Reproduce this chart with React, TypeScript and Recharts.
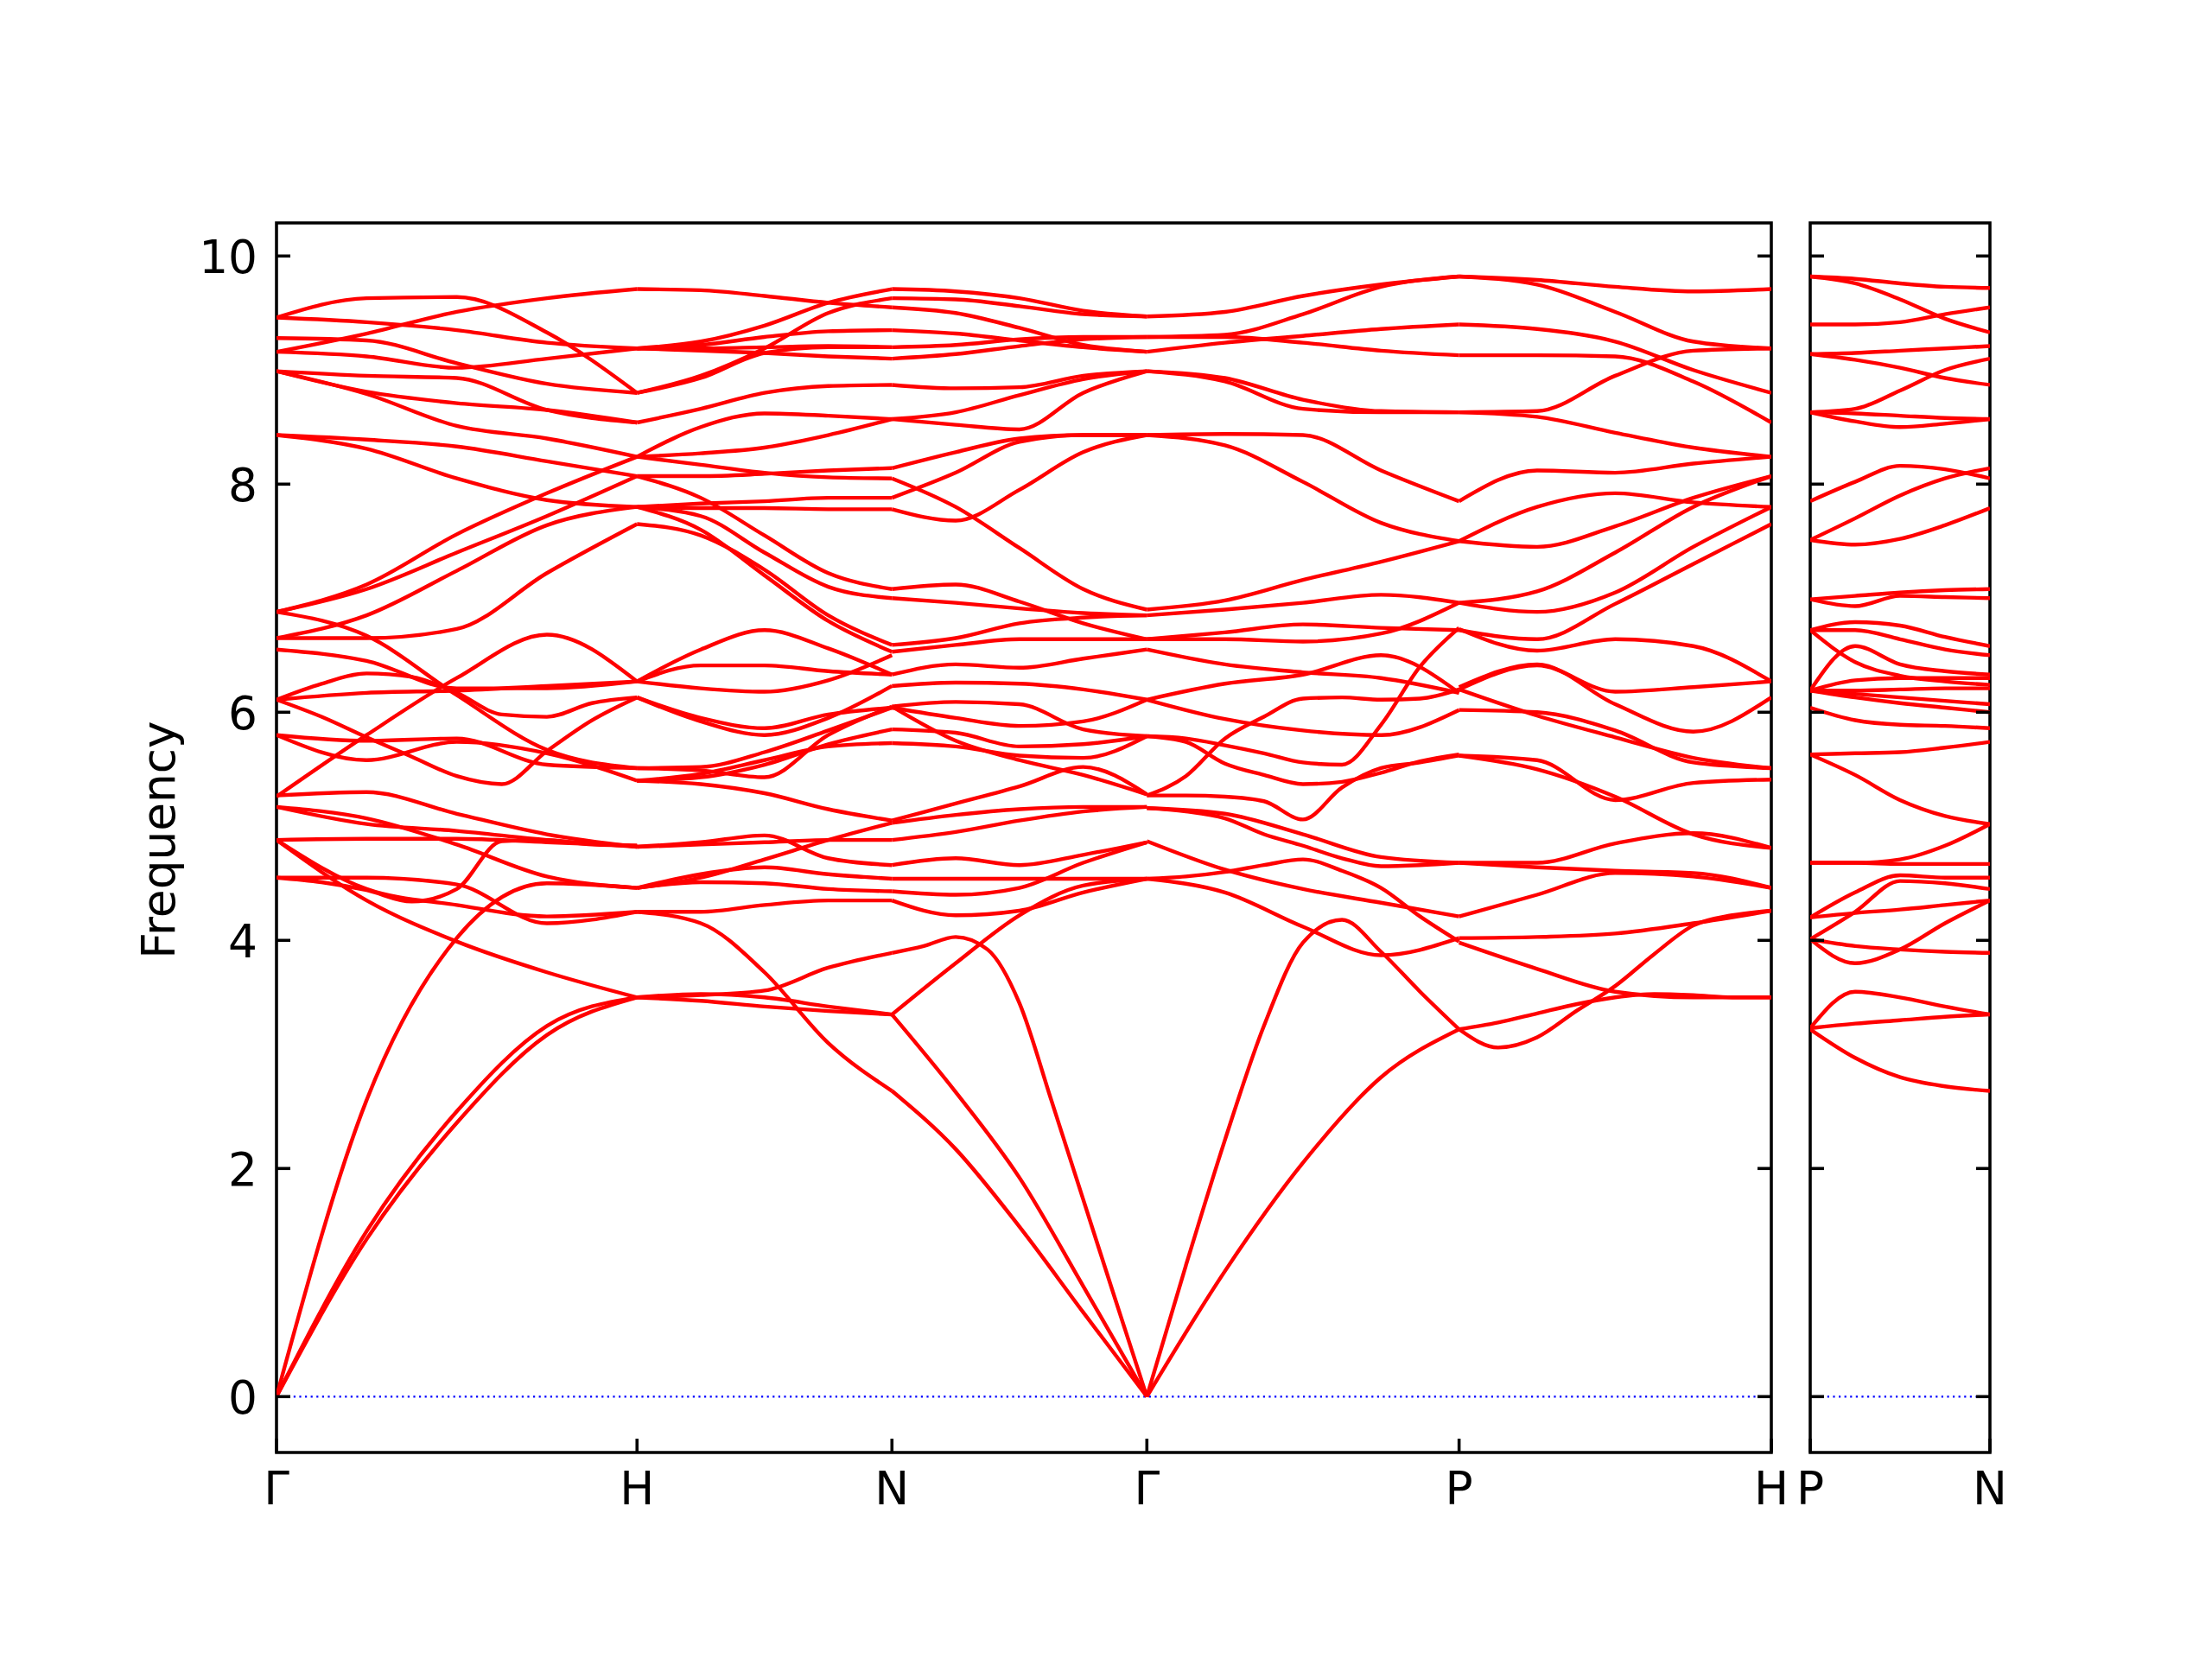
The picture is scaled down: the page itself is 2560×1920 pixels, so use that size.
import React from 'react';
import { LineChart, Line, XAxis, YAxis, ReferenceLine, ReferenceArea } from 'recharts';

// high-symmetry path (distances in 2pi/a)
const mainTicks = [0, 1, 1.7071, 2.4142, 3.2802, 4.1463];
const mainLabels = ['Γ', 'H', 'N', 'Γ', 'P', 'H'];
const sideTicks = [0, 0.5];
const sideLabels = ['P', 'N'];
const freqTicks = [0, 2, 4, 6, 8, 10];
const freqDomain: [number, number] = [-0.49, 10.29];

// each row is one branch, values evenly spaced along the segment
const gammaH = [
  [9.46, 9.63, 9.64, 9.33, 8.80],
  [9.16, 9.32, 9.51, 9.63, 9.71],
  [9.46, 9.42, 9.35, 9.24, 9.19],
  [9.28, 9.26, 9.06, 8.88, 8.80],
  [9.16, 9.12, 9.02, 9.10, 9.19],
  [8.99, 8.95, 8.93, 8.65, 8.54],
  [8.99, 8.81, 8.71, 8.65, 8.54],
  [8.99, 8.79, 8.51, 8.40, 8.24],
  [8.43, 8.39, 8.33, 8.20, 8.07],
  [8.43, 8.31, 8.05, 7.86, 7.80],
  [6.88, 7.12, 7.56, 7.92, 8.24],
  [6.88, 7.08, 7.40, 7.72, 8.07],
  [6.65, 6.85, 7.24, 7.64, 7.80],
  [6.65, 6.65, 6.73, 7.22, 7.65],
  [6.88, 6.67, 6.15, 5.67, 5.51],
  [6.55, 6.45, 6.21, 6.21, 6.27],
  [6.11, 6.17, 6.19, 6.23, 6.27],
  [6.11, 6.25, 6.34, 6.31, 6.17, 5.98, 5.96, 6.08, 6.13],
  [5.26, 5.80, 6.30, 6.68, 6.27],
  [6.11, 5.96, 5.78, 5.61, 5.44, 5.37, 5.66, 5.93, 6.13],
  [5.80, 5.75, 5.77, 5.54, 5.51],
  [5.80, 5.58, 5.74, 5.64, 5.40],
  [5.27, 5.30, 5.11, 4.93, 4.82],
  [5.17, 5.02, 4.96, 4.88, 4.82],
  [5.17, 5.07, 4.84, 4.56, 4.46],
  [4.88, 4.89, 4.89, 4.86, 4.83],
  [4.88, 4.35, 3.99, 3.72, 3.50],
  [4.88, 4.45, 4.31, 4.21, 4.25],
  [4.55, 4.51, 4.44, 4.34, 4.45, 4.87, 4.88, 4.84, 4.83],
  [4.55, 4.55, 4.49, 4.15, 4.25],
  [0, 2.6, 4.02, 4.50, 4.46],
  [0, 1.45, 2.5, 3.25, 3.5],
  [0, 1.38, 2.40, 3.17, 3.5],
];

const hN = [
  [9.71, 9.70, 9.65, 9.59, 9.55],
  [9.19, 9.25, 9.39, 9.59, 9.71],
  [8.80, 8.95, 9.19, 9.50, 9.63],
  [8.80, 8.93, 9.15, 9.20, 9.20],
  [9.19, 9.19, 9.20, 9.21, 9.20],
  [9.19, 9.17, 9.15, 9.12, 9.10],
  [9.19, 9.22, 9.29, 9.34, 9.35],
  [8.54, 8.66, 8.80, 8.86, 8.87],
  [8.24, 8.50, 8.62, 8.60, 8.57],
  [8.24, 8.27, 8.32, 8.43, 8.57],
  [8.07, 8.07, 8.09, 8.12, 8.14],
  [8.24, 8.17, 8.10, 8.06, 8.05],
  [7.80, 7.83, 7.85, 7.88, 7.88],
  [7.80, 7.79, 7.79, 7.78, 7.78],
  [8.07, 7.88, 7.55, 7.22, 7.08],
  [7.80, 7.72, 7.40, 7.10, 7.00],
  [7.65, 7.55, 7.25, 6.85, 6.59],
  [7.80, 7.60, 7.20, 6.80, 6.53],
  [6.27, 6.55, 6.72, 6.56, 6.33],
  [6.27, 6.41, 6.41, 6.36, 6.33],
  [6.27, 6.21, 6.18, 6.28, 6.50],
  [6.13, 5.95, 5.86, 5.98, 6.04],
  [6.13, 5.92, 5.80, 5.95, 6.23],
  [5.51, 5.52, 5.65, 5.84, 6.04],
  [5.51, 5.49, 5.43, 5.80, 6.05],
  [5.40, 5.43, 5.54, 5.72, 5.85],
  [5.40, 5.46, 5.58, 5.70, 5.73],
  [5.40, 5.37, 5.29, 5.15, 5.05],
  [4.82, 4.86, 4.92, 4.72, 4.66],
  [4.82, 4.84, 4.86, 4.88, 4.88],
  [4.46, 4.55, 4.71, 4.88, 5.03],
  [4.46, 4.51, 4.50, 4.45, 4.43],
  [4.46, 4.58, 4.64, 4.58, 4.54],
  [4.25, 4.25, 4.31, 4.35, 4.35],
  [4.25, 4.15, 3.72, 3.10, 2.68],
  [3.50, 3.53, 3.50, 3.42, 3.35],
  [3.50, 3.47, 3.42, 3.38, 3.35],
  [3.50, 3.52, 3.56, 3.76, 3.89],
];

const nGamma = [
  [9.71, 9.69, 9.63, 9.52, 9.47],
  [9.63, 9.62, 9.56, 9.49, 9.47],
  [9.55, 9.50, 9.37, 9.22, 9.16],
  [9.35, 9.32, 9.26, 9.20, 9.16],
  [9.20, 9.22, 9.27, 9.29, 9.29],
  [9.10, 9.14, 9.21, 9.27, 9.29],
  [8.87, 8.84, 8.85, 8.95, 8.99],
  [8.57, 8.52, 8.48, 8.80, 8.99],
  [8.57, 8.63, 8.78, 8.92, 8.99],
  [8.14, 8.28, 8.40, 8.43, 8.43],
  [7.88, 8.10, 8.37, 8.43, 8.43],
  [7.78, 7.68, 7.95, 8.28, 8.43],
  [8.05, 7.80, 7.44, 7.08, 6.90],
  [7.08, 7.12, 6.97, 6.78, 6.64],
  [7.00, 6.96, 6.91, 6.87, 6.85],
  [6.59, 6.65, 6.78, 6.83, 6.85],
  [6.53, 6.59, 6.64, 6.64, 6.64],
  [6.33, 6.42, 6.39, 6.47, 6.55],
  [6.23, 6.26, 6.25, 6.20, 6.11],
  [6.05, 6.09, 6.07, 5.85, 5.79],
  [6.04, 5.95, 5.88, 5.92, 6.11],
  [5.85, 5.82, 5.70, 5.72, 5.79],
  [5.73, 5.70, 5.62, 5.60, 5.79],
  [6.05, 5.75, 5.58, 5.45, 5.28],
  [5.05, 5.20, 5.35, 5.52, 5.28],
  [5.03, 5.10, 5.15, 5.17, 5.17],
  [4.88, 4.95, 5.05, 5.13, 5.17],
  [4.66, 4.72, 4.66, 4.75, 4.86],
  [4.54, 4.54, 4.54, 4.54, 4.54],
  [4.43, 4.40, 4.46, 4.68, 4.86],
  [4.35, 4.22, 4.26, 4.42, 4.54],
  [3.35, 3.80, 4.22, 4.48, 4.54],
  [3.89, 3.95, 4.03, 3.92, 3.45, 2.60, 1.73, 0.86, 0],
  [3.35, 2.67, 1.92, 0.97, 0],
  [2.68, 2.17, 1.49, 0.74, 0],
];

const gammaP = [
  [9.47, 9.51, 9.65, 9.75, 9.82],
  [9.29, 9.31, 9.49, 9.73, 9.82],
  [9.16, 9.24, 9.30, 9.36, 9.40],
  [9.29, 9.29, 9.24, 9.17, 9.13],
  [8.99, 8.93, 8.74, 8.64, 8.63],
  [8.99, 8.90, 8.66, 8.63, 8.63],
  [8.43, 8.44, 8.43, 8.12, 7.85],
  [8.43, 8.34, 8.02, 7.66, 7.50],
  [6.90, 6.98, 7.16, 7.32, 7.50],
  [6.85, 6.90, 6.96, 7.03, 6.96],
  [6.64, 6.70, 6.77, 6.74, 6.72],
  [6.64, 6.64, 6.62, 6.69, 6.96],
  [6.55, 6.42, 6.35, 6.30, 6.17],
  [6.11, 6.25, 6.33, 6.50, 6.17],
  [6.11, 5.94, 5.84, 5.80, 6.02],
  [5.79, 5.74, 5.55, 5.45, 5.37, 5.39, 5.47, 5.57, 5.63],
  [5.27, 5.44, 5.77, 5.96, 6.12, 6.13, 6.11, 6.12, 6.20],
  [5.79, 5.77, 5.71, 5.64, 5.56, 5.54, 5.89, 6.40, 6.74],
  [5.27, 5.27, 5.26, 5.22, 5.06, 5.34, 5.51, 5.56, 5.62],
  [5.16, 5.11, 4.93, 4.73, 4.68],
  [5.16, 5.13, 5.07, 4.93, 4.83, 4.72, 4.65, 4.66, 4.68],
  [4.87, 4.62, 4.45, 4.33, 4.21],
  [4.54, 4.56, 4.60, 4.66, 4.71, 4.61, 4.46, 4.21, 3.99],
  [4.54, 4.42, 4.12, 3.87, 4.02],
  [0, 1.15, 2.25, 3.25, 3.98, 4.18, 3.90, 3.55, 3.22],
  [0, 1.10, 2.05, 2.80, 3.22],
];

const pH = [
  [9.82, 9.79, 9.73, 9.69, 9.71],
  [9.82, 9.75, 9.51, 9.25, 9.19],
  [9.40, 9.36, 9.25, 9.00, 8.80],
  [9.13, 9.13, 9.12, 8.90, 8.54],
  [8.63, 8.64, 8.95, 9.17, 9.19],
  [8.63, 8.59, 8.45, 8.32, 8.24],
  [7.85, 8.12, 8.10, 8.18, 8.24],
  [7.50, 7.80, 7.92, 7.84, 7.80],
  [7.50, 7.45, 7.63, 7.88, 8.07],
  [6.96, 7.06, 7.40, 7.80, 8.07],
  [6.96, 6.88, 7.05, 7.45, 7.80],
  [6.72, 6.64, 6.95, 7.30, 7.65],
  [6.73, 6.54, 6.64, 6.58, 6.27],
  [6.20, 6.41, 6.18, 6.22, 6.27],
  [6.22, 6.42, 6.07, 5.83, 6.13],
  [6.20, 5.97, 5.78, 5.60, 5.51],
  [6.02, 6.00, 5.84, 5.56, 5.51],
  [5.62, 5.58, 5.23, 5.38, 5.41],
  [5.62, 5.50, 5.26, 4.93, 4.81],
  [4.68, 4.68, 4.85, 4.94, 4.81],
  [4.68, 4.64, 4.61, 4.59, 4.46],
  [4.21, 4.40, 4.59, 4.56, 4.46],
  [3.22, 3.06, 3.15, 3.38, 3.60, 3.88, 4.13, 4.22, 4.26],
  [3.22, 3.28, 3.36, 3.44, 3.50, 3.53, 3.52, 3.50, 3.50],
  [3.98, 3.75, 3.55, 3.50, 3.50],
  [4.02, 4.03, 4.06, 4.15, 4.26],
];

const pN = [
  [9.82, 9.80, 9.76, 9.73, 9.72],
  [9.82, 9.76, 9.62, 9.45, 9.33],
  [9.40, 9.40, 9.42, 9.49, 9.55],
  [9.14, 9.15, 9.17, 9.19, 9.21],
  [9.14, 9.09, 9.02, 8.93, 8.87],
  [8.63, 8.66, 8.82, 9.00, 9.10],
  [8.63, 8.62, 8.60, 8.58, 8.57],
  [8.63, 8.55, 8.50, 8.53, 8.57],
  [7.85, 8.02, 8.16, 8.13, 8.05],
  [7.51, 7.70, 7.90, 8.05, 8.14],
  [7.51, 7.47, 7.52, 7.64, 7.79],
  [6.99, 7.02, 7.05, 7.07, 7.08],
  [6.99, 6.93, 7.02, 7.01, 7.00],
  [6.72, 6.79, 6.76, 6.66, 6.58],
  [6.72, 6.44, 6.32, 6.27, 6.24],
  [6.72, 6.72, 6.64, 6.55, 6.50],
  [6.19, 6.58, 6.42, 6.36, 6.33],
  [6.19, 6.28, 6.30, 6.30, 6.30],
  [6.19, 6.19, 6.20, 6.21, 6.21],
  [6.19, 6.16, 6.13, 6.10, 6.07],
  [6.19, 6.13, 6.08, 6.04, 6.00],
  [6.04, 5.93, 5.89, 5.88, 5.86],
  [5.63, 5.64, 5.65, 5.69, 5.74],
  [5.63, 5.45, 5.23, 5.09, 5.02],
  [4.68, 4.68, 4.67, 4.67, 4.67],
  [4.68, 4.68, 4.71, 4.83, 5.02],
  [4.20, 4.42, 4.57, 4.55, 4.55],
  [4.01, 4.25, 4.52, 4.50, 4.45],
  [4.20, 4.24, 4.27, 4.31, 4.35],
  [4.01, 3.80, 3.92, 4.15, 4.35],
  [4.01, 3.95, 3.92, 3.90, 3.89],
  [3.23, 3.55, 3.50, 3.42, 3.35],
  [3.23, 3.27, 3.30, 3.33, 3.35],
  [3.22, 2.97, 2.80, 2.72, 2.68],
];

const mainSegments = [
  { from: 0, to: 1, bands: gammaH },
  { from: 1, to: 1.7071, bands: hN },
  { from: 1.7071, to: 2.4142, bands: nGamma },
  { from: 2.4142, to: 3.2802, bands: gammaP },
  { from: 3.2802, to: 4.1463, bands: pH },
];
const sideSegments = [{ from: 0, to: 0.5, bands: pN }];

const FONT = '"DejaVu Sans", sans-serif';
const FS = 53.3;
const LW = 3.56;
const TICK = 16;
const TOP = 258;
const BOTTOM = 1681;

type Seg = { from: number; to: number; bands: number[][] };

const toSeries = (segs: Seg[]) =>
  segs.flatMap((s, si) =>
    s.bands.map((b, bi) => ({
      key: `s${si}b${bi}`,
      pts: b.map((v, i) => ({ x: s.from + ((s.to - s.from) * i) / (b.length - 1), f: v })),
    }))
  );

const mainSeries = toSeries(mainSegments);
const sideSeries = toSeries(sideSegments);

interface PanelProps {
  left: number;
  width: number;
  plotLeft: number;
  plotRight: number;
  xMax: number;
  xTicks: number[];
  xLabels: string[];
  series: { key: string; pts: { x: number; f: number }[] }[];
  yLabels: boolean;
}

const Panel: React.FC<PanelProps> = ({ left, width, plotLeft, plotRight, xMax, xTicks, xLabels, series, yLabels }) => {
  const yAxisW = 20;
  const xAxisH = 100;

  const renderXTick = (props: any) => {
    const { x, payload } = props;
    const idx = xTicks.findIndex((t) => Math.abs(t - payload.value) < 1e-6);
    return (
      <g>
        <line x1={x} x2={x} y1={BOTTOM} y2={BOTTOM - TICK} stroke="#000" strokeWidth={LW} />
        <text x={x} y={1741} textAnchor="middle" fontSize={FS} fontFamily={FONT} fill="#000">
          {xLabels[idx]}
        </text>
      </g>
    );
  };

  const renderYTick = (props: any) => {
    const { y, payload } = props;
    return (
      <g>
        <line x1={plotLeft} x2={plotLeft + TICK} y1={y} y2={y} stroke="#000" strokeWidth={LW} />
        <line x1={plotRight} x2={plotRight - TICK} y1={y} y2={y} stroke="#000" strokeWidth={LW} />
        {yLabels && (
          <text x={plotLeft - 22} y={y + 19.5} textAnchor="end" fontSize={FS} fontFamily={FONT} fill="#000">
            {payload.value}
          </text>
        )}
      </g>
    );
  };

  return (
    <div style={{ position: 'absolute', left, top: 0, width, height: 1920 }}>
      <LineChart
        width={width}
        height={1920}
        margin={{ top: TOP, right: width - plotRight, bottom: 1920 - BOTTOM - xAxisH, left: plotLeft - yAxisW }}
      >
        <XAxis
          dataKey="x"
          type="number"
          domain={[0, xMax]}
          ticks={xTicks}
          interval={0}
          allowDataOverflow
          height={xAxisH}
          axisLine={false}
          tickLine={false}
          tick={renderXTick}
        />
        <YAxis
          type="number"
          domain={freqDomain}
          ticks={freqTicks}
          interval={0}
          allowDataOverflow
          width={yAxisW}
          axisLine={false}
          tickLine={false}
          tick={renderYTick}
        />
        <ReferenceLine y={0} stroke="#0000ff" strokeWidth={2.2} strokeDasharray="2.2 4.4" />
        {series.map((s) => (
          <Line
            key={s.key}
            data={s.pts}
            dataKey="f"
            type="monotone"
            stroke="#ff0000"
            strokeWidth={4.4}
            dot={false}
            activeDot={false}
            isAnimationActive={false}
          />
        ))}
        <ReferenceArea
          x1={0}
          x2={xMax}
          y1={freqDomain[0]}
          y2={freqDomain[1]}
          fill="none"
          stroke="#000"
          strokeWidth={LW}
          ifOverflow="visible"
        />
      </LineChart>
    </div>
  );
};

export default function App() {
  return (
    <div style={{ position: 'absolute', left: 0, top: 0, width: 2560, height: 1920, background: '#fff' }}>
      <Panel
        left={0}
        width={2090}
        plotLeft={320}
        plotRight={2050}
        xMax={4.1463}
        xTicks={mainTicks}
        xLabels={mainLabels}
        series={mainSeries}
        yLabels
      />
      <Panel
        left={2060}
        width={300}
        plotLeft={35}
        plotRight={243}
        xMax={0.5}
        xTicks={sideTicks}
        xLabels={sideLabels}
        series={sideSeries}
        yLabels={false}
      />
      <div
        style={{
          position: 'absolute',
          left: 184,
          top: 972,
          transform: 'translate(-50%, -50%) rotate(-90deg)',
          fontFamily: FONT,
          fontSize: FS,
          whiteSpace: 'nowrap',
          color: '#000',
        }}
      >
        Frequency
      </div>
    </div>
  );
}
